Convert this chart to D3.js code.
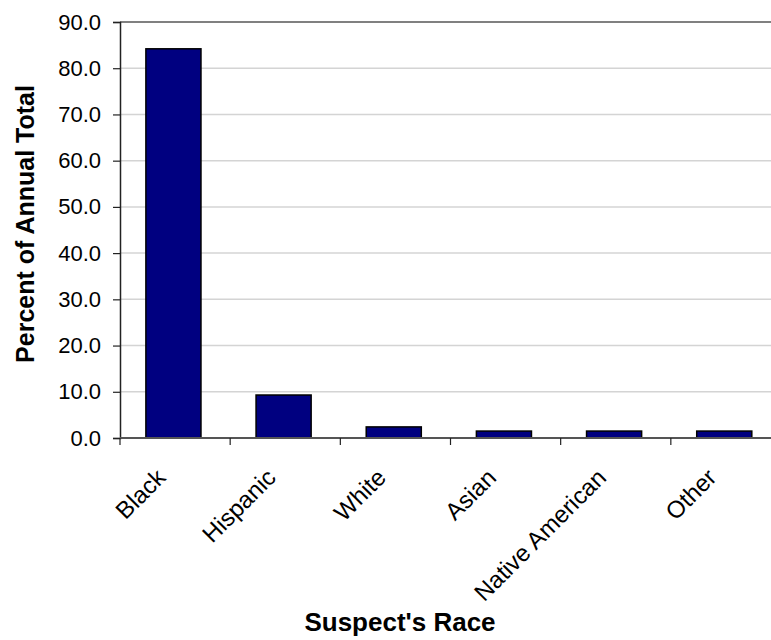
<!DOCTYPE html>
<html>
<head>
<meta charset="utf-8">
<script src="https://cdn.jsdelivr.net/npm/d3@7"></script>
<style>
  html, body { margin: 0; padding: 0; background: #fff; }
  svg { display: block; font-family: "Liberation Sans", Arial, Helvetica, sans-serif; }
</style>
</head>
<body>
<svg id="chart" width="771" height="640"></svg>
<script>
const categories = ["Black", "Hispanic", "White", "Asian", "Native American", "Other"];
const values = [84.2, 9.3, 2.4, 1.5, 1.5, 1.5];
const yTicks = [0, 10, 20, 30, 40, 50, 60, 70, 80, 90];
const xTitle = "Suspect's Race";
const yTitle = "Percent of Annual Total";

(function () {
const svg = d3.select("#chart");
const plotLeft = 120, plotRight = 781, plotTop = 22, plotBottom = 438;

const x = d3.scaleBand().domain(categories).range([plotLeft, plotRight])
  .paddingInner(0.5).paddingOuter(0.25).align(0.47);
const y = d3.scaleLinear().domain([0, 90]).range([plotBottom, plotTop]);
const n = categories.length;
const slot = (plotRight - plotLeft) / n;

// gridlines
svg.append("g").selectAll("line").data(yTicks.filter(t => t > 0 && t < 90)).join("line")
  .attr("x1", plotLeft).attr("x2", plotRight)
  .attr("y1", d => y(d)).attr("y2", d => y(d))
  .attr("stroke", "#d4d4d4").attr("stroke-width", 1.5);
// top border
svg.append("line").attr("x1", plotLeft).attr("x2", plotRight).attr("y1", y(90)).attr("y2", y(90))
  .attr("stroke", "#808080").attr("stroke-width", 2);

// bars
svg.append("g").selectAll("rect").data(categories).join("rect")
  .attr("x", d => x(d))
  .attr("width", x.bandwidth())
  .attr("y", (d, i) => y(values[i]))
  .attr("height", (d, i) => y(0) - y(values[i]))
  .attr("fill", "#000080")
  .attr("stroke", "#000")
  .attr("stroke-width", 1.5);

// y axis
const yAxis = d3.axisLeft(y).tickValues(yTicks).tickFormat(d3.format(".1f")).tickSize(7).tickPadding(12);
const gy = svg.append("g").attr("transform", `translate(${plotLeft},0)`).call(yAxis);
gy.select(".domain").attr("stroke", "#222").attr("stroke-width", 1.5);
gy.selectAll(".tick line").attr("stroke", "#222").attr("stroke-width", 1.2);
gy.selectAll("text").attr("font-size", 22).attr("fill", "#000")
  .attr("font-family", "'Liberation Sans', Arial, sans-serif");

// x axis with ticks at category boundaries
svg.append("line").attr("x1", plotLeft).attr("x2", plotRight).attr("y1", plotBottom).attr("y2", plotBottom)
  .attr("stroke", "#555").attr("stroke-width", 2);
svg.append("g").selectAll("line").data(d3.range(n)).join("line")
  .attr("x1", i => plotLeft + i * slot)
  .attr("x2", i => plotLeft + i * slot)
  .attr("y1", plotBottom).attr("y2", plotBottom + 7)
  .attr("stroke", "#222").attr("stroke-width", 1.2);

// x labels rotated
svg.append("g").selectAll("text").data(categories).join("text")
  .attr("transform", (d, i) => `translate(${plotLeft + (i + 0.5) * slot - 8},${plotBottom + 41}) rotate(-45)`)
  .attr("text-anchor", "end")
  .attr("font-size", 24)
  .attr("fill", "#000")
  .text(d => d);

// titles
svg.append("text").attr("x", 400).attr("y", 631).attr("text-anchor", "middle")
  .attr("font-size", 26).attr("font-weight", "bold").text(xTitle);
svg.append("text").attr("transform", "translate(34,224) rotate(-90)").attr("text-anchor", "middle")
  .attr("font-size", 25).attr("font-weight", "bold").text(yTitle);
})();
</script>
</body>
</html>
